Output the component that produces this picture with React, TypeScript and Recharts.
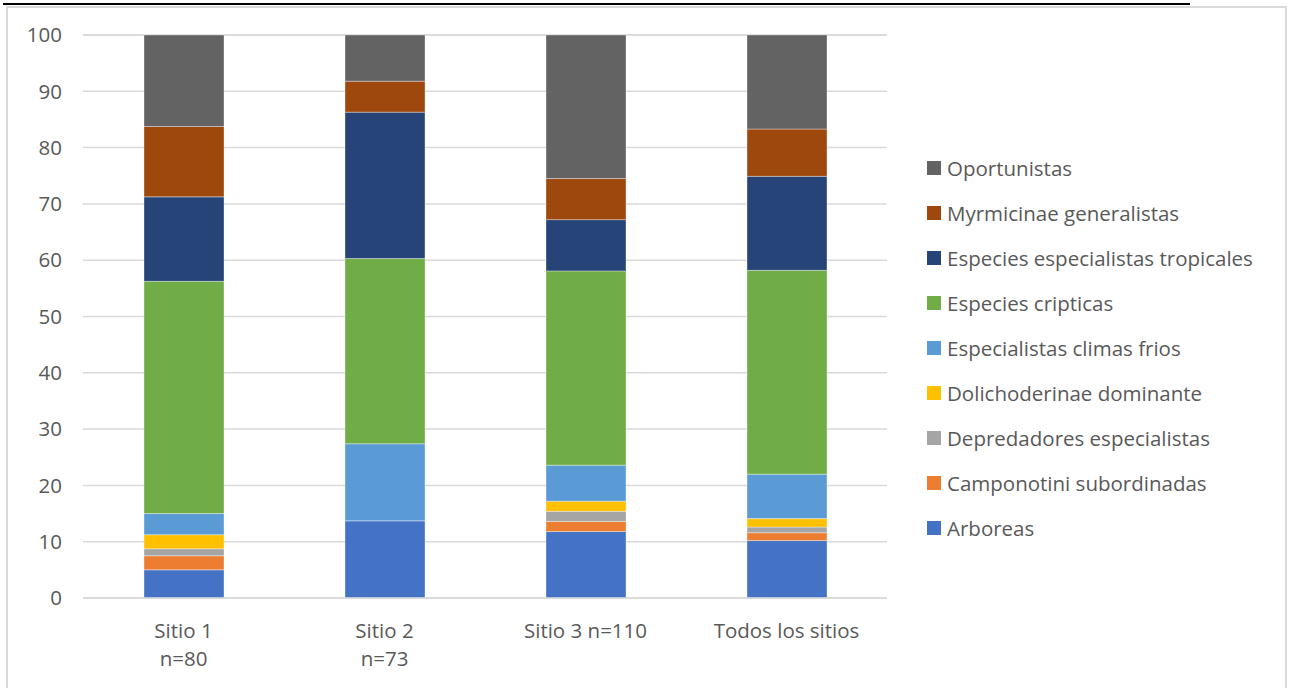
import React from 'react';
import {
    BarChart,
    Bar,
    XAxis,
    YAxis,
    CartesianGrid,
    Legend
} from 'recharts';

/* ============================
   Data (percent of species per group)
============================ */

const categories = ['Sitio 1\nn=80', 'Sitio 2\nn=73', 'Sitio 3 n=110', 'Todos los sitios'];

const arboreas = [5.0, 13.7, 11.8, 10.2];
const camponotini = [2.5, 0, 1.8, 1.4];
const depredadores = [1.25, 0, 1.8, 1.0];
const dolichoderinae = [2.5, 0, 1.8, 1.5];
const climasFrios = [3.75, 13.7, 6.4, 7.9];
const cripticas = [41.25, 32.9, 34.5, 36.2];
const tropicales = [15.0, 26.0, 9.1, 16.7];
const myrmicinae = [12.5, 5.5, 7.3, 8.4];
const oportunistas = [16.25, 8.2, 25.5, 16.7];

const yTicks = [0, 10, 20, 30, 40, 50, 60, 70, 80, 90, 100];

const SERIES = [
    { key: 'arboreas', name: 'Arboreas', values: arboreas, color: '#4472C4' },
    { key: 'camponotini', name: 'Camponotini subordinadas', values: camponotini, color: '#ED7D31' },
    { key: 'depredadores', name: 'Depredadores especialistas', values: depredadores, color: '#A5A5A5' },
    { key: 'dolichoderinae', name: 'Dolichoderinae dominante', values: dolichoderinae, color: '#FFC000' },
    { key: 'climasFrios', name: 'Especialistas climas frios', values: climasFrios, color: '#5B9BD5' },
    { key: 'cripticas', name: 'Especies cripticas', values: cripticas, color: '#70AD47' },
    { key: 'tropicales', name: 'Especies especialistas tropicales', values: tropicales, color: '#264478' },
    { key: 'myrmicinae', name: 'Myrmicinae generalistas', values: myrmicinae, color: '#9E480E' },
    { key: 'oportunistas', name: 'Oportunistas', values: oportunistas, color: '#636363' },
];

const data = categories.map((name, i) => {
    const row: Record<string, string | number> = { name };
    SERIES.forEach(s => { row[s.key] = s.values[i]; });
    return row;
});

const FONT = '"Open Sans", sans-serif';
const FONT_SIZE = 20.5;
const TEXT = '#595959';

/* ============================
   Ticks & Legend
============================ */

const XTick = ({ x, y, payload }: any) => {
    const lines = String(payload.value).split('\n');
    return (
        <text x={x} y={y} textAnchor="middle" fill={TEXT} fontSize={FONT_SIZE} fontFamily={FONT}>
            {lines.map((l, i) => (
                <tspan key={i} x={x} dy={i === 0 ? 40 : 28}>{l}</tspan>
            ))}
        </text>
    );
};

const LegendContent = () => (
    <div style={{ width: 400, paddingLeft: 40, boxSizing: 'border-box', fontFamily: FONT }}>
        {[...SERIES].reverse().map(s => (
            <div key={s.key} style={{ height: 45, display: 'flex', alignItems: 'center' }}>
                <span style={{ width: 14, height: 14, background: s.color, marginRight: 6, flexShrink: 0 }} />
                <span style={{ fontSize: FONT_SIZE, color: TEXT, whiteSpace: 'nowrap' }}>{s.name}</span>
            </div>
        ))}
    </div>
);

/* ============================
   Component
============================ */

const App: React.FC = () => {
    return (
        <div style={{ position: 'absolute', left: 0, top: 0, width: 1290, height: 688, background: '#fff', overflow: 'hidden' }}>
            <div style={{ position: 'absolute', left: 3, top: 3, width: 1187, height: 2, background: '#000' }} />
            <div style={{ position: 'absolute', left: 6, top: 6, width: 1277, height: 700, border: '2px solid #d9d9d9' }} />
            <div style={{ position: 'absolute', left: 0, top: 0 }}>
                <BarChart
                    width={1290}
                    height={688}
                    data={data}
                    margin={{ top: 35, right: 3, bottom: 0, left: 0 }}
                    barSize={80}
                >
                    <CartesianGrid vertical={false} stroke="#d9d9d9" strokeWidth={1.5} />
                    <XAxis
                        dataKey="name"
                        height={90}
                        stroke="#d9d9d9"
                        strokeWidth={1.5}
                        tickLine={false}
                        tickSize={0}
                        tickMargin={0}
                        interval={0}
                        tick={<XTick />}
                    />
                    <YAxis
                        domain={[0, 100]}
                        ticks={yTicks}
                        width={83}
                        axisLine={false}
                        tickLine={false}
                        tickSize={0}
                        tickMargin={21}
                        tick={{ fill: TEXT, fontSize: FONT_SIZE, fontFamily: FONT }}
                    />
                    <Legend
                        layout="vertical"
                        align="right"
                        verticalAlign="top"
                        wrapperStyle={{ top: 145 }}
                        content={<LegendContent />}
                    />
                    {SERIES.map(s => (
                        <Bar
                            key={s.key}
                            dataKey={s.key}
                            name={s.name}
                            stackId="a"
                            fill={s.color}
                            stroke="#ffffff"
                            strokeOpacity={0.35}
                            strokeWidth={1}
                            isAnimationActive={false}
                        />
                    ))}
                </BarChart>
            </div>
        </div>
    );
};

export default App;
